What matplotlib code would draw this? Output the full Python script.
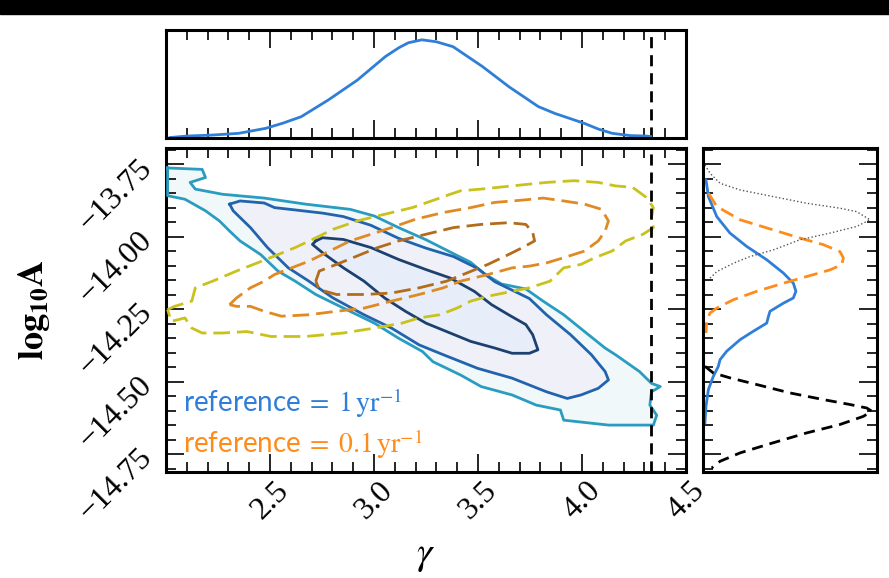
import numpy as np
import matplotlib
matplotlib.use("Agg")
import matplotlib.pyplot as plt
from matplotlib.ticker import MultipleLocator
from matplotlib.patches import Rectangle

plt.rcParams['font.family'] = ['Liberation Serif', 'DejaVu Serif']
plt.rcParams['mathtext.fontset'] = 'stix'

# ---- 2D posterior contours (gamma, log10A), reference = 1/yr (solid, filled)
outer_gamma = [2.008, 2.174, 2.190, 2.116, 2.141, 2.273, 2.472, 2.671, 2.886, 3.002, 3.118, 3.250,
               3.382, 3.465, 3.531, 3.614, 3.730, 3.813, 3.912, 4.012, 4.111, 4.161, 4.276, 4.334,
               4.376, 4.334, 4.326, 4.359, 4.343, 4.127, 3.912, 3.896, 3.780, 3.664, 3.515, 3.416,
               3.283, 3.233, 3.118, 3.002, 2.853, 2.720, 2.621, 2.538, 2.455, 2.356, 2.306, 2.257,
               2.190, 2.091, 2.008]
outer_logA = [-13.762, -13.767, -13.795, -13.812, -13.835, -13.853, -13.866, -13.887, -13.905, -13.928,
              -13.968, -14.010, -14.058, -14.088, -14.128, -14.163, -14.180, -14.222, -14.269, -14.327,
              -14.384, -14.407, -14.465, -14.506, -14.517, -14.535, -14.581, -14.616, -14.650, -14.650,
              -14.633, -14.598, -14.581, -14.546, -14.517, -14.477, -14.431, -14.396, -14.350, -14.298,
              -14.246, -14.199, -14.153, -14.118, -14.061, -14.014, -13.980, -13.945, -13.910, -13.870,
              -13.858]

mid_gamma = [2.306, 2.356, 2.472, 2.522, 2.621, 2.753, 2.853, 2.985, 3.118, 3.250, 3.382, 3.498,
             3.581, 3.664, 3.747, 3.829, 3.945, 4.045, 4.111, 4.127, 4.078, 3.995, 3.929, 3.829,
             3.664, 3.498, 3.333, 3.217, 3.084, 2.952, 2.803, 2.687, 2.588, 2.488, 2.406, 2.323]
mid_logA = [-13.887, -13.876, -13.883, -13.899, -13.907, -13.918, -13.930, -13.960, -14.005, -14.039,
            -14.068, -14.109, -14.155, -14.184, -14.213, -14.269, -14.338, -14.407, -14.465, -14.494,
            -14.523, -14.546, -14.558, -14.535, -14.488, -14.454, -14.407, -14.373, -14.315, -14.269,
            -14.211, -14.153, -14.107, -14.037, -13.968, -13.910]

inner_gamma = [2.720, 2.753, 2.853, 2.985, 3.118, 3.250, 3.366, 3.482, 3.565, 3.647, 3.730, 3.763,
               3.788, 3.747, 3.664, 3.581, 3.465, 3.349, 3.250, 3.151, 3.051, 2.952, 2.853, 2.753,
               2.704]
inner_logA = [-14.014, -14.003, -14.009, -14.037, -14.078, -14.113, -14.142, -14.188, -14.234, -14.269,
              -14.303, -14.338, -14.390, -14.402, -14.402, -14.384, -14.361, -14.327, -14.298, -14.257,
              -14.211, -14.153, -14.107, -14.055, -14.026]

# ---- reference = 0.1/yr (dashed, unfilled)
yel_gamma = [2.008, 2.041, 2.124, 2.141, 2.224, 2.339, 2.439, 2.522, 2.621, 2.704, 2.803, 2.919,
             3.051, 3.184, 3.300, 3.366, 3.416, 3.515, 3.664, 3.829, 3.962, 4.078, 4.161, 4.243,
             4.310, 4.343, 4.334, 4.343, 4.293, 4.210, 4.144, 4.061, 3.995, 3.912, 3.846, 3.747,
             3.664, 3.548, 3.465, 3.399, 3.316, 3.217, 3.134, 3.002, 2.853, 2.671, 2.505, 2.389,
             2.273, 2.174, 2.124, 2.091, 2.025]
yel_logA = [-14.251, -14.240, -14.222, -14.176, -14.153, -14.118, -14.090, -14.066, -14.037, -14.009,
            -13.974, -13.945, -13.922, -13.899, -13.870, -13.853, -13.841, -13.835, -13.824, -13.812,
            -13.806, -13.812, -13.824, -13.829, -13.864, -13.899, -13.933, -13.968, -13.991, -14.014,
            -14.049, -14.072, -14.095, -14.107, -14.153, -14.176, -14.188, -14.205, -14.222, -14.246,
            -14.269, -14.280, -14.298, -14.315, -14.332, -14.344, -14.344, -14.327, -14.332, -14.332,
            -14.315, -14.280, -14.292]

org_gamma = [2.306, 2.339, 2.406, 2.472, 2.522, 2.604, 2.687, 2.786, 2.886, 2.985, 3.084, 3.200,
             3.333, 3.465, 3.581, 3.714, 3.813, 3.912, 4.012, 4.094, 4.127, 4.111, 4.078, 4.012,
             3.912, 3.829, 3.747, 3.664, 3.548, 3.416, 3.333, 3.217, 3.084, 2.952, 2.820, 2.687,
             2.555, 2.472, 2.406, 2.339]
org_logA = [-14.234, -14.211, -14.176, -14.153, -14.130, -14.107, -14.084, -14.049, -14.014, -13.991,
            -13.968, -13.939, -13.916, -13.899, -13.881, -13.873, -13.866, -13.876, -13.887, -13.905,
            -13.945, -13.980, -14.014, -14.049, -14.072, -14.090, -14.101, -14.107, -14.130, -14.153,
            -14.176, -14.199, -14.222, -14.246, -14.257, -14.269, -14.274, -14.257, -14.240, -14.240]

dor_gamma = [2.720, 2.737, 2.820, 2.919, 3.018, 3.118, 3.250, 3.382, 3.515, 3.647, 3.730, 3.763,
             3.772, 3.714, 3.647, 3.548, 3.449, 3.349, 3.217, 3.084, 2.952, 2.820, 2.737]
dor_logA = [-14.153, -14.118, -14.095, -14.066, -14.037, -14.014, -13.991, -13.968, -13.957, -13.951,
            -13.957, -13.985, -14.014, -14.037, -14.061, -14.095, -14.124, -14.153, -14.176, -14.194,
            -14.199, -14.199, -14.182]

# ---- marginal of gamma (top panel)
gam_x = [2.02, 2.10, 2.22, 2.35, 2.48, 2.56, 2.65, 2.78, 2.92, 3.055, 3.12, 3.165, 3.23, 3.30,
         3.38, 3.45, 3.52, 3.65, 3.79, 3.87, 3.94, 4.01, 4.08, 4.145, 4.23, 4.31, 4.33]
gam_pdf = [0.005, 0.02, 0.03, 0.048, 0.099, 0.15, 0.217, 0.387, 0.59, 0.83, 0.92, 0.97, 1.0, 0.98,
           0.93, 0.83, 0.73, 0.52, 0.32, 0.25, 0.20, 0.15, 0.09, 0.048, 0.025, 0.02, 0.015]

# ---- marginals of log10A (right panel)
blue_A = [-13.803, -13.861, -13.930, -13.987, -14.033, -14.079, -14.125, -14.160, -14.188, -14.211,
          -14.229, -14.257, -14.275, -14.298, -14.326, -14.355, -14.395, -14.424, -14.447, -14.482,
          -14.527, -14.585, -14.642]
blue_pdf = [0.017, 0.031, 0.079, 0.155, 0.251, 0.366, 0.462, 0.519, 0.534, 0.519, 0.462, 0.385,
            0.376, 0.366, 0.289, 0.213, 0.136, 0.098, 0.088, 0.059, 0.031, 0.017, 0.011]

orange_A = [-13.849, -13.895, -13.941, -13.976, -14.004, -14.027, -14.051, -14.073, -14.096, -14.114,
            -14.137, -14.160, -14.188, -14.217, -14.246, -14.263, -14.292, -14.332]
orange_pdf = [0.031, 0.079, 0.213, 0.404, 0.557, 0.692, 0.787, 0.807, 0.797, 0.730, 0.596, 0.462,
              0.309, 0.175, 0.079, 0.040, 0.021, 0.017]

dotted_A = [-13.752, -13.780, -13.815, -13.838, -13.861, -13.884, -13.901, -13.913, -13.941, -13.964,
            -13.987, -14.010, -14.045, -14.068, -14.091, -14.120, -14.148]
dotted_pdf = [0.011, 0.040, 0.098, 0.213, 0.404, 0.596, 0.787, 0.883, 0.960, 0.883, 0.730, 0.557,
              0.404, 0.270, 0.175, 0.079, 0.031]

dashed_A = [-14.447, -14.470, -14.487, -14.510, -14.539, -14.562, -14.579, -14.591, -14.602, -14.620,
            -14.648, -14.677, -14.711, -14.746, -14.775, -14.798]
dashed_pdf = [0.011, 0.059, 0.155, 0.309, 0.500, 0.692, 0.845, 0.941, 0.970, 0.921, 0.787, 0.596,
              0.404, 0.213, 0.098, 0.050]

gamma_true = 13.0 / 3.0
xlim = (2.0, 4.5)
ylim = (-14.812, -13.693)

fig = plt.figure(figsize=(8.89, 5.78), dpi=100)
fig.patches.append(Rectangle((0, 1 - 14 / 578), 1, 14 / 578, transform=fig.transFigure,
                             color='black', zorder=-1))

ax = fig.add_axes([0.1867, 0.1834, 0.585, 0.5606])
ax_top = fig.add_axes([0.1867, 0.7612, 0.585, 0.1869], sharex=ax)
ax_r = fig.add_axes([0.7908, 0.1834, 0.1957, 0.5606], sharey=ax)

# filled solid contours
ax.fill(outer_gamma, outer_logA, color='#f1f8f9', lw=0, zorder=1)
ax.fill(mid_gamma, mid_logA, color='#f0f0f9', lw=0, zorder=2)
ax.fill(inner_gamma, inner_logA, color='#e8eef9', lw=0, zorder=3)

def closed(a):
    return list(a) + [a[0]]

ax.plot(closed(outer_gamma), closed(outer_logA), color='#2b9cc1', lw=2.0, zorder=4)
ax.plot(closed(mid_gamma), closed(mid_logA), color='#2163ad', lw=2.0, zorder=4)
ax.plot(closed(inner_gamma), closed(inner_logA), color='#1d416f', lw=2.0, zorder=4)

ax.plot(closed(yel_gamma), closed(yel_logA), color='#c9c21d', lw=2.0, ls=(0, (6, 2.5)), zorder=5)
ax.plot(closed(org_gamma), closed(org_logA), color='#df8a22', lw=2.0, ls=(0, (6, 2.5)), zorder=5)
ax.plot(closed(dor_gamma), closed(dor_logA), color='#b36c1c', lw=2.0, ls=(0, (6, 2.5)), zorder=5)

ax.axvline(gamma_true, color='black', lw=2.0, ls=(0, (4, 2.5)), zorder=6)
ax_top.axvline(gamma_true, color='black', lw=2.0, ls=(0, (4, 2.5)))

ax.text(2.08, -14.604, r'reference$\;=\;1\,\mathrm{yr}^{-1}$', color='#2f7fd8', fontsize=20,
        family=['Lato', 'DejaVu Sans'], zorder=7)
ax.text(2.08, -14.748, r'reference$\;=\;0.1\,\mathrm{yr}^{-1}$', color='#ff8c1a', fontsize=20,
        family=['Lato', 'DejaVu Sans'], zorder=7)

ax_top.plot(gam_x, gam_pdf, color='#2f7fd8', lw=2.0)
ax_top.set_ylim(0, 1.1)

ax_r.plot(blue_pdf, blue_A, color='#2f7fd8', lw=2.0)
ax_r.plot(orange_pdf, orange_A, color='#ff8c1a', lw=2.0, ls=(0, (5, 2.5)))
ax_r.plot(dotted_pdf, dotted_A, color='#555555', lw=1.0, ls=':')
ax_r.plot(dashed_pdf, dashed_A, color='black', lw=2.0, ls=(0, (4, 2.5)))
ax_r.set_xlim(0, 1.0)

ax.set_xlim(*xlim)
ax.set_ylim(*ylim)
ax.xaxis.set_major_locator(MultipleLocator(0.5))
ax.xaxis.set_minor_locator(MultipleLocator(0.1))
ax.yaxis.set_major_locator(MultipleLocator(0.25))
ax.yaxis.set_minor_locator(MultipleLocator(0.05))

for a in (ax, ax_top, ax_r):
    for s in a.spines.values():
        s.set_linewidth(2.2)
    a.tick_params(which='both', direction='in', top=True, bottom=True, left=True, right=True,
                  width=1.2)
    a.tick_params(which='major', length=13)
    a.tick_params(which='minor', length=7)

ax.tick_params(axis='x', labelsize=23, labelrotation=45, pad=3)
ax.tick_params(axis='y', labelsize=23, labelrotation=45, pad=6)
ax.set_xticks([2.5, 3.0, 3.5, 4.0, 4.5])

ax_top.tick_params(labelbottom=False, left=False, right=False, labelleft=False, which='both')
ax_r.tick_params(labelleft=False, bottom=False, top=False, labelbottom=False, which='both')

ax.set_xlabel(r'$\gamma$', fontsize=28)
ax.set_ylabel(r'$\mathbf{log_{10}A}$', fontsize=26)
ax.xaxis.set_label_coords(0.5, -0.20)
ax.yaxis.set_label_coords(-0.219, 0.5)

fig.savefig('out.png', dpi=100)
